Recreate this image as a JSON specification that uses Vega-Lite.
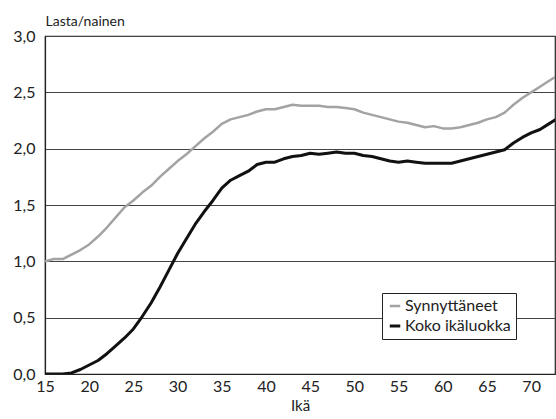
{
  "$schema": "https://vega.github.io/schema/vega-lite/v6.json",
  "width": 510,
  "height": 338,
  "autosize": {"type": "none"},
  "padding": {"left": 45, "top": 36, "right": 1, "bottom": 45},
  "background": "white",
  "config": {
    "font": "Lato",
    "view": {"stroke": "#222", "strokeWidth": 1.2}
  },
  "data": {
    "values": [
      {"ika": 15, "sarja": "Synnyttäneet", "arvo": 1.0},
      {"ika": 16, "sarja": "Synnyttäneet", "arvo": 1.02},
      {"ika": 17, "sarja": "Synnyttäneet", "arvo": 1.02},
      {"ika": 18, "sarja": "Synnyttäneet", "arvo": 1.06},
      {"ika": 19, "sarja": "Synnyttäneet", "arvo": 1.1},
      {"ika": 20, "sarja": "Synnyttäneet", "arvo": 1.15},
      {"ika": 21, "sarja": "Synnyttäneet", "arvo": 1.22},
      {"ika": 22, "sarja": "Synnyttäneet", "arvo": 1.3},
      {"ika": 23, "sarja": "Synnyttäneet", "arvo": 1.39},
      {"ika": 24, "sarja": "Synnyttäneet", "arvo": 1.48},
      {"ika": 25, "sarja": "Synnyttäneet", "arvo": 1.54},
      {"ika": 26, "sarja": "Synnyttäneet", "arvo": 1.61},
      {"ika": 27, "sarja": "Synnyttäneet", "arvo": 1.67},
      {"ika": 28, "sarja": "Synnyttäneet", "arvo": 1.75},
      {"ika": 29, "sarja": "Synnyttäneet", "arvo": 1.82},
      {"ika": 30, "sarja": "Synnyttäneet", "arvo": 1.89},
      {"ika": 31, "sarja": "Synnyttäneet", "arvo": 1.95},
      {"ika": 32, "sarja": "Synnyttäneet", "arvo": 2.02},
      {"ika": 33, "sarja": "Synnyttäneet", "arvo": 2.09},
      {"ika": 34, "sarja": "Synnyttäneet", "arvo": 2.15},
      {"ika": 35, "sarja": "Synnyttäneet", "arvo": 2.22},
      {"ika": 36, "sarja": "Synnyttäneet", "arvo": 2.26},
      {"ika": 37, "sarja": "Synnyttäneet", "arvo": 2.28},
      {"ika": 38, "sarja": "Synnyttäneet", "arvo": 2.3},
      {"ika": 39, "sarja": "Synnyttäneet", "arvo": 2.33},
      {"ika": 40, "sarja": "Synnyttäneet", "arvo": 2.35},
      {"ika": 41, "sarja": "Synnyttäneet", "arvo": 2.35},
      {"ika": 42, "sarja": "Synnyttäneet", "arvo": 2.37},
      {"ika": 43, "sarja": "Synnyttäneet", "arvo": 2.39},
      {"ika": 44, "sarja": "Synnyttäneet", "arvo": 2.38},
      {"ika": 45, "sarja": "Synnyttäneet", "arvo": 2.38},
      {"ika": 46, "sarja": "Synnyttäneet", "arvo": 2.38},
      {"ika": 47, "sarja": "Synnyttäneet", "arvo": 2.37},
      {"ika": 48, "sarja": "Synnyttäneet", "arvo": 2.37},
      {"ika": 49, "sarja": "Synnyttäneet", "arvo": 2.36},
      {"ika": 50, "sarja": "Synnyttäneet", "arvo": 2.35},
      {"ika": 51, "sarja": "Synnyttäneet", "arvo": 2.32},
      {"ika": 52, "sarja": "Synnyttäneet", "arvo": 2.3},
      {"ika": 53, "sarja": "Synnyttäneet", "arvo": 2.28},
      {"ika": 54, "sarja": "Synnyttäneet", "arvo": 2.26},
      {"ika": 55, "sarja": "Synnyttäneet", "arvo": 2.24},
      {"ika": 56, "sarja": "Synnyttäneet", "arvo": 2.23},
      {"ika": 57, "sarja": "Synnyttäneet", "arvo": 2.21},
      {"ika": 58, "sarja": "Synnyttäneet", "arvo": 2.19},
      {"ika": 59, "sarja": "Synnyttäneet", "arvo": 2.2},
      {"ika": 60, "sarja": "Synnyttäneet", "arvo": 2.18},
      {"ika": 61, "sarja": "Synnyttäneet", "arvo": 2.18},
      {"ika": 62, "sarja": "Synnyttäneet", "arvo": 2.19},
      {"ika": 63, "sarja": "Synnyttäneet", "arvo": 2.21},
      {"ika": 64, "sarja": "Synnyttäneet", "arvo": 2.23},
      {"ika": 65, "sarja": "Synnyttäneet", "arvo": 2.26},
      {"ika": 66, "sarja": "Synnyttäneet", "arvo": 2.28},
      {"ika": 67, "sarja": "Synnyttäneet", "arvo": 2.32},
      {"ika": 68, "sarja": "Synnyttäneet", "arvo": 2.39},
      {"ika": 69, "sarja": "Synnyttäneet", "arvo": 2.45},
      {"ika": 70, "sarja": "Synnyttäneet", "arvo": 2.5},
      {"ika": 71, "sarja": "Synnyttäneet", "arvo": 2.55},
      {"ika": 72, "sarja": "Synnyttäneet", "arvo": 2.6},
      {"ika": 73, "sarja": "Synnyttäneet", "arvo": 2.65},
      {"ika": 15, "sarja": "Koko ikäluokka", "arvo": 0.0},
      {"ika": 16, "sarja": "Koko ikäluokka", "arvo": 0.0},
      {"ika": 17, "sarja": "Koko ikäluokka", "arvo": 0.0},
      {"ika": 18, "sarja": "Koko ikäluokka", "arvo": 0.01},
      {"ika": 19, "sarja": "Koko ikäluokka", "arvo": 0.04},
      {"ika": 20, "sarja": "Koko ikäluokka", "arvo": 0.08},
      {"ika": 21, "sarja": "Koko ikäluokka", "arvo": 0.12},
      {"ika": 22, "sarja": "Koko ikäluokka", "arvo": 0.18},
      {"ika": 23, "sarja": "Koko ikäluokka", "arvo": 0.25},
      {"ika": 24, "sarja": "Koko ikäluokka", "arvo": 0.32},
      {"ika": 25, "sarja": "Koko ikäluokka", "arvo": 0.4},
      {"ika": 26, "sarja": "Koko ikäluokka", "arvo": 0.51},
      {"ika": 27, "sarja": "Koko ikäluokka", "arvo": 0.63},
      {"ika": 28, "sarja": "Koko ikäluokka", "arvo": 0.77},
      {"ika": 29, "sarja": "Koko ikäluokka", "arvo": 0.92},
      {"ika": 30, "sarja": "Koko ikäluokka", "arvo": 1.07},
      {"ika": 31, "sarja": "Koko ikäluokka", "arvo": 1.2},
      {"ika": 32, "sarja": "Koko ikäluokka", "arvo": 1.33},
      {"ika": 33, "sarja": "Koko ikäluokka", "arvo": 1.44},
      {"ika": 34, "sarja": "Koko ikäluokka", "arvo": 1.54},
      {"ika": 35, "sarja": "Koko ikäluokka", "arvo": 1.65},
      {"ika": 36, "sarja": "Koko ikäluokka", "arvo": 1.72},
      {"ika": 37, "sarja": "Koko ikäluokka", "arvo": 1.76},
      {"ika": 38, "sarja": "Koko ikäluokka", "arvo": 1.8},
      {"ika": 39, "sarja": "Koko ikäluokka", "arvo": 1.86},
      {"ika": 40, "sarja": "Koko ikäluokka", "arvo": 1.88},
      {"ika": 41, "sarja": "Koko ikäluokka", "arvo": 1.88},
      {"ika": 42, "sarja": "Koko ikäluokka", "arvo": 1.91},
      {"ika": 43, "sarja": "Koko ikäluokka", "arvo": 1.93},
      {"ika": 44, "sarja": "Koko ikäluokka", "arvo": 1.94},
      {"ika": 45, "sarja": "Koko ikäluokka", "arvo": 1.96},
      {"ika": 46, "sarja": "Koko ikäluokka", "arvo": 1.95},
      {"ika": 47, "sarja": "Koko ikäluokka", "arvo": 1.96},
      {"ika": 48, "sarja": "Koko ikäluokka", "arvo": 1.97},
      {"ika": 49, "sarja": "Koko ikäluokka", "arvo": 1.96},
      {"ika": 50, "sarja": "Koko ikäluokka", "arvo": 1.96},
      {"ika": 51, "sarja": "Koko ikäluokka", "arvo": 1.94},
      {"ika": 52, "sarja": "Koko ikäluokka", "arvo": 1.93},
      {"ika": 53, "sarja": "Koko ikäluokka", "arvo": 1.91},
      {"ika": 54, "sarja": "Koko ikäluokka", "arvo": 1.89},
      {"ika": 55, "sarja": "Koko ikäluokka", "arvo": 1.88},
      {"ika": 56, "sarja": "Koko ikäluokka", "arvo": 1.89},
      {"ika": 57, "sarja": "Koko ikäluokka", "arvo": 1.88},
      {"ika": 58, "sarja": "Koko ikäluokka", "arvo": 1.87},
      {"ika": 59, "sarja": "Koko ikäluokka", "arvo": 1.87},
      {"ika": 60, "sarja": "Koko ikäluokka", "arvo": 1.87},
      {"ika": 61, "sarja": "Koko ikäluokka", "arvo": 1.87},
      {"ika": 62, "sarja": "Koko ikäluokka", "arvo": 1.89},
      {"ika": 63, "sarja": "Koko ikäluokka", "arvo": 1.91},
      {"ika": 64, "sarja": "Koko ikäluokka", "arvo": 1.93},
      {"ika": 65, "sarja": "Koko ikäluokka", "arvo": 1.95},
      {"ika": 66, "sarja": "Koko ikäluokka", "arvo": 1.97},
      {"ika": 67, "sarja": "Koko ikäluokka", "arvo": 1.99},
      {"ika": 68, "sarja": "Koko ikäluokka", "arvo": 2.05},
      {"ika": 69, "sarja": "Koko ikäluokka", "arvo": 2.1},
      {"ika": 70, "sarja": "Koko ikäluokka", "arvo": 2.14},
      {"ika": 71, "sarja": "Koko ikäluokka", "arvo": 2.17},
      {"ika": 72, "sarja": "Koko ikäluokka", "arvo": 2.22},
      {"ika": 73, "sarja": "Koko ikäluokka", "arvo": 2.27}
    ]
  },
  "mark": {"type": "line", "clip": true, "strokeJoin": "round"},
  "encoding": {
    "x": {
      "field": "ika",
      "type": "quantitative",
      "scale": {"domain": [15, 72.7], "nice": false, "zero": false},
      "axis": {
        "title": "Ikä",
        "titleFont": "Lato",
        "titleFontSize": 15,
        "titleFontWeight": "normal",
        "titleColor": "#222",
        "titlePadding": 4,
        "values": [15, 20, 25, 30, 35, 40, 45, 50, 55, 60, 65, 70],
        "grid": false,
        "ticks": false,
        "domainColor": "#222",
        "domainWidth": 1.2,
        "labelFont": "Lato",
        "labelFontSize": 16,
        "labelColor": "#222",
        "labelPadding": 4,
        "labelFlush": false,
        "labelOverlap": false
      }
    },
    "y": {
      "field": "arvo",
      "type": "quantitative",
      "scale": {"domain": [0, 3], "nice": false},
      "axis": {
        "title": "Lasta/nainen",
        "titleAngle": 0,
        "titleAnchor": "end",
        "titleAlign": "left",
        "titleBaseline": "bottom",
        "titleX": 0,
        "titleY": -8,
        "titleFont": "Lato",
        "titleFontSize": 14,
        "titleFontWeight": "normal",
        "titleColor": "#222",
        "values": [0, 0.5, 1, 1.5, 2, 2.5, 3],
        "labelExpr": "replace(format(datum.value, '.1f'), '.', ',')",
        "grid": true,
        "gridColor": "#444",
        "gridWidth": 1,
        "ticks": false,
        "domainColor": "#222",
        "domainWidth": 1.2,
        "labelFont": "Lato",
        "labelFontSize": 16,
        "labelColor": "#222",
        "labelPadding": 10
      }
    },
    "color": {
      "field": "sarja",
      "type": "nominal",
      "scale": {"domain": ["Synnyttäneet", "Koko ikäluokka"], "range": ["#a3a3a3", "#111111"]},
      "legend": {
        "title": null,
        "orient": "none",
        "legendX": 337,
        "legendY": 257,
        "direction": "vertical",
        "fillColor": "white",
        "strokeColor": "#222",
        "padding": 5,
        "symbolType": "stroke",
        "symbolSize": 110,
        "symbolStrokeWidth": 3,
        "labelFont": "Lato",
        "labelFontSize": 16,
        "labelColor": "#222",
        "labelOffset": 2,
        "labelLimit": 300,
        "rowPadding": 4
      }
    },
    "strokeWidth": {
      "field": "sarja",
      "type": "nominal",
      "scale": {"domain": ["Synnyttäneet", "Koko ikäluokka"], "range": [2.5, 3]},
      "legend": null
    }
  }
}
